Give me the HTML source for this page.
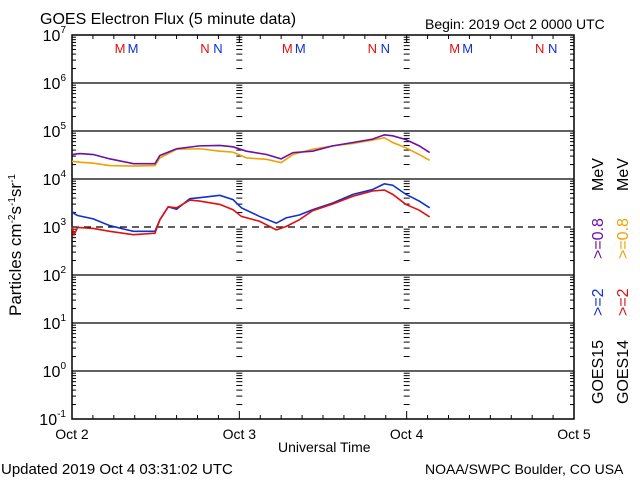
<!DOCTYPE html>
<html><head><meta charset="utf-8"><style>
body{margin:0;background:#fff;}
svg text{font-family:"Liberation Sans","DejaVu Sans",sans-serif;}
</style></head><body>
<svg id="c" width="640" height="480" xmlns="http://www.w3.org/2000/svg">
<text x="40" y="24" font-size="16">GOES Electron Flux (5 minute data)</text>
<text x="425" y="29" font-size="14">Begin: 2019 Oct 2 0000 UTC</text>
<text x="278" y="452" font-size="14">Universal Time</text>
<text x="1" y="474" font-size="15">Updated 2019 Oct  4 03:31:02 UTC</text>
<text x="425" y="474" font-size="14">NOAA/SWPC Boulder, CO USA</text>
<text transform="translate(21,245) rotate(-90)" text-anchor="middle" font-size="17">Particles cm<tspan font-size="10" dy="-6">-2</tspan><tspan dy="6">s</tspan><tspan font-size="10" dy="-6">-1</tspan><tspan dy="6">sr</tspan><tspan font-size="10" dy="-6">-1</tspan></text>
<g font-size="16">
<text transform="translate(603,404) rotate(-90)">GOES15</text>
<text transform="translate(603,316) rotate(-90)" fill="#1030d0">&gt;=2</text>
<text transform="translate(603,259) rotate(-90)" fill="#6a0fa8">&gt;=0.8</text>
<text transform="translate(603,191) rotate(-90)">MeV</text>
</g>
<g font-size="16">
<text transform="translate(628,404) rotate(-90)">GOES14</text>
<text transform="translate(628,316) rotate(-90)" fill="#e01010">&gt;=2</text>
<text transform="translate(628,259) rotate(-90)" fill="#f0a000">&gt;=0.8</text>
<text transform="translate(628,191) rotate(-90)">MeV</text>
</g>
<g id="g"></g>
</svg>
<script>
const dayLabels=["Oct 2","Oct 3","Oct 4","Oct 5"];
const decades=[7,6,5,4,3,2,1,0,-1];
const hours=[0,1.1,3.05,5.4,8.8,11.9,12.6,15.0,18.3,21.2,23.1,25.0,27.9,30.0,31.7,34.5,37.4,40.3,43.1,44.8,46.0,47.9,49.8,51.3];
const g15hi=[4.51,4.53,4.51,4.42,4.32,4.32,4.49,4.63,4.69,4.70,4.67,4.58,4.51,4.42,4.55,4.58,4.69,4.76,4.83,4.92,4.90,4.82,4.69,4.55];
const g14hi=[4.37,4.35,4.33,4.28,4.27,4.28,4.44,4.62,4.63,4.58,4.56,4.44,4.41,4.34,4.51,4.62,4.69,4.74,4.81,4.86,4.76,4.65,4.51,4.39];
const hoursLo=[0,0.3,0.8,3.05,5.4,8.8,11.9,12.6,13.8,15.0,16.9,18.3,21.2,23.1,24.3,26.9,29.3,30.7,32.6,34.5,37.4,40.3,43.1,44.8,46.0,47.9,49.8,51.3];
const g15lo=[3.33,3.28,3.24,3.17,3.03,2.91,2.91,3.15,3.42,3.37,3.59,3.61,3.66,3.57,3.40,3.22,3.08,3.19,3.25,3.36,3.50,3.68,3.78,3.90,3.87,3.68,3.54,3.40];
const g14lo=[3.01,2.84,2.99,2.97,2.91,2.84,2.87,3.15,3.42,3.40,3.56,3.54,3.47,3.36,3.22,3.12,2.94,3.01,3.15,3.34,3.48,3.64,3.75,3.77,3.68,3.47,3.35,3.21];
const mmLabels=[["M",1],["N",0]];
const NS="http://www.w3.org/2000/svg";
const L=72,R=574,T=35,B=419;
const X=h=>L+(R-L)*h/72;
const Y=v=>T+(7-v)*(B-T)/8;
const g=document.getElementById('g');
function el(t,a,p){const e=document.createElementNS(NS,t);for(const k in a)e.setAttribute(k,a[k]);(p||g).appendChild(e);return e;}
const fr=el('rect',{x:L,y:T,width:R-L,height:B-T,fill:'none',stroke:'#000','stroke-width':1.5});


decades.forEach(d=>{
  const y=Y(d);
  if(d<7&&d>-1){const l=el('line',{x1:L,x2:R,y1:y,y2:y,stroke:'#000','stroke-width':1.2,'stroke-dasharray':d==3?'7,5':'none'});
  
  }
  const t=el('text',{x:66,y:y+6,'text-anchor':'end','font-size':16});
  
  
  t.innerHTML='10<tspan font-size="10" dy="-8">'+d+'</tspan>';
  if(d>-1){for(let m=2;m<10;m++){const yy=y+(B-T)/8*(1-Math.log10(m));
    [[L,L+4],[R-4,R]].forEach(p=>el('line',{x1:p[0],x2:p[1],y1:yy,y2:yy,stroke:'#000'}));
    [1,2].forEach(dd=>{const x=X(dd*24);el('line',{x1:x-3,x2:x+3,y1:yy,y2:yy,stroke:'#000'});});
  }}
});
for(let h=0;h<=72;h+=3){const x=X(h);el('line',{x1:x,x2:x,y1:B,y2:B-(h%24?4:8),stroke:'#000'});el('line',{x1:x,x2:x,y1:T,y2:T+(h%24?4:8),stroke:'#000'});}
dayLabels.forEach((s,i)=>{const t=el('text',{x:X(i*24),y:439,'text-anchor':'middle','font-size':14});


t.textContent=s;});
for(let d=0;d<3;d++){mmLabels.forEach(([c,o])=>{const base=X(d*24)+(c=="M"?48:133);
  const a=el('text',{x:base,y:53,'font-size':13,fill:'#e01010','text-anchor':'middle'});a.textContent=c;
  
  
  const b=el('text',{x:base+13,y:53,'font-size':13,fill:'#1030d0','text-anchor':'middle'});b.textContent=c;
  
  
});}
function line(hs,vs,col,name){const p=el('polyline',{points:hs.map((h,i)=>X(h)+','+Y(vs[i])).join(' '),fill:'none',stroke:col,'stroke-width':1.6});

}
line(hours,g14hi,'#f0a000','goes14-0.8mev-line');
line(hours,g15hi,'#6a0fa8','goes15-0.8mev-line');
line(hoursLo,g15lo,'#1030d0','goes15-2mev-line');
line(hoursLo,g14lo,'#e01010','goes14-2mev-line');
</script>
</body></html>
